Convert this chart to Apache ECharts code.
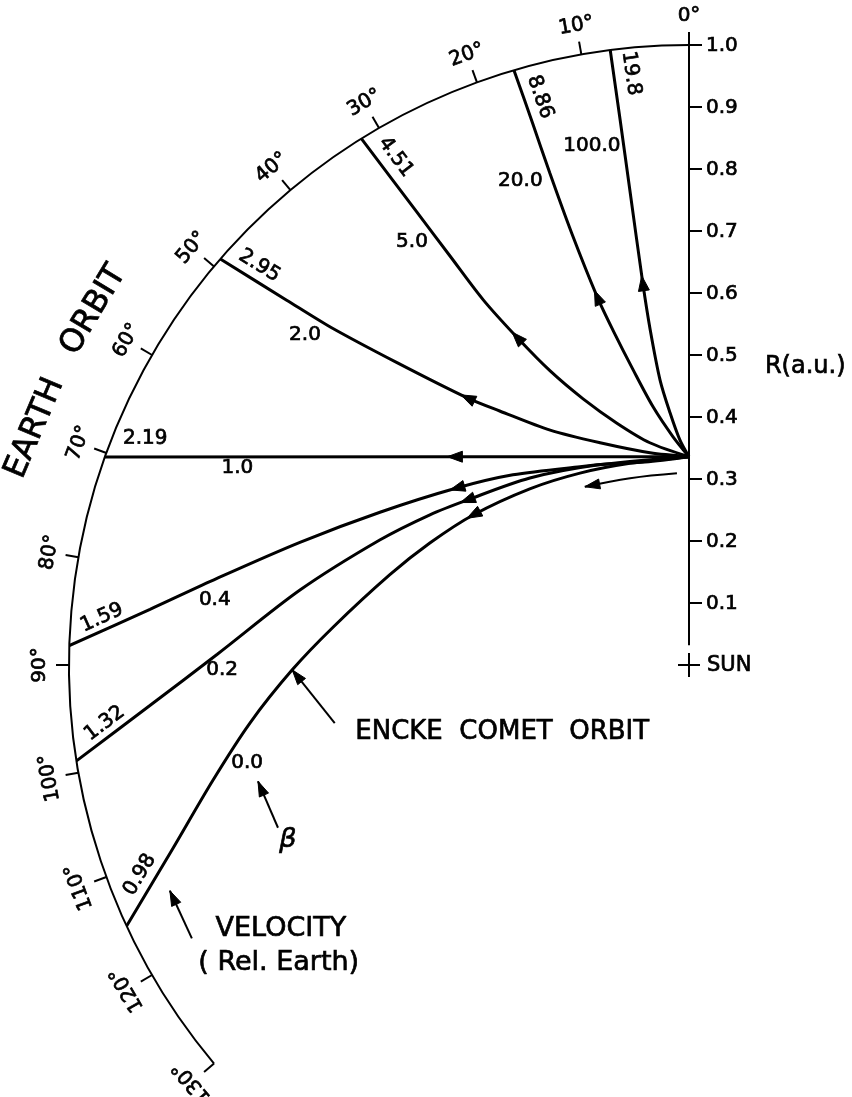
<!DOCTYPE html>
<html>
<head>
<meta charset="utf-8">
<title>Trajectories from Encke perihelion to the Earth orbit</title>
<script src="https://cdn.jsdelivr.net/npm/echarts@6/dist/echarts.min.js"></script>
<style>
  html, body { margin: 0; padding: 0; background: #ffffff; }
  #chart { width: 852px; height: 1097px; }
</style>
</head>
<body>
<div id="chart"></div>
<script>
// ---------------------------------------------------------------------------
// Data. Every path point is [R (a.u.), angle from the Sun–perihelion line (deg)],
// running from perihelion (R ≈ 0.34 a.u.) out to the Earth orbit (R = 1).
// ---------------------------------------------------------------------------
const betaValues = ['100.0', '20.0', '5.0', '2.0', '1.0', '0.4', '0.2', '0.0'];
const arrivalVelocities = ['19.8', '8.86', '4.51', '2.95', '2.19', '1.59', '1.32', '0.98'];

const pathBeta100 = [[0.336, 0], [0.363, 2.3], [0.408, 4.3], [0.462, 5.8], [0.544, 6.6], [0.621, 6.9], [0.772, 7.1], [0.886, 7.2], [1.0, 7.3]];
const pathBeta20 = [[0.336, 0], [0.369, 4.0], [0.420, 7.9], [0.484, 10.7], [0.554, 12.8], [0.612, 14.0], [0.722, 15.2], [0.825, 15.8], [0.910, 16.1], [1.0, 16.4]];
const pathBeta5 = [[0.336, 0], [0.364, 10.0], [0.407, 16.6], [0.462, 21.7], [0.525, 25.3], [0.597, 27.7], [0.676, 29.4], [0.764, 30.3], [0.852, 31.0], [1.0, 31.9]];
const pathBeta2 = [[0.336, 0], [0.348, 10.4], [0.386, 21.8], [0.440, 30.6], [0.511, 36.7], [0.560, 39.7], [0.678, 44.0], [0.795, 46.7], [0.876, 47.8], [1.0, 49.1]];
const pathBeta1 = [[0.336, 0], [0.506, 48.4], [1.0, 70.4]];
const pathBeta04 = [[0.336, 0], [0.337, 10.8], [0.365, 28.8], [0.418, 42.8], [0.471, 52.7], [0.556, 63.7], [0.658, 72.5], [0.774, 79.6], [0.874, 84.1], [1.0, 88.2]];
const pathBeta02 = [[0.336, 0], [0.335, 12.2], [0.355, 24.7], [0.396, 40.4], [0.446, 53.4], [0.483, 59.9], [0.538, 68.0], [0.639, 79.1], [0.761, 88.7], [0.872, 94.3], [1.0, 98.9]];
const pathBeta0 = [[0.336, 0], [0.339, 16.3], [0.356, 29.6], [0.383, 42.1], [0.424, 55.2], [0.462, 64.8], [0.504, 73.2], [0.577, 83.9], [0.640, 90.7], [0.714, 97.5], [0.790, 103.6], [0.886, 109.7], [1.0, 114.9]];

// Short arc showing the comet's own sense of motion near perihelion
const enckeMotion = [[0.310, 3.6], [0.316, 17.5], [0.333, 30.3]];

const radiusTicks = [0.1, 0.2, 0.3, 0.4, 0.5, 0.6, 0.7, 0.8, 0.9, 1.0];
const radiusTickLabels = ['0.1', '0.2', '0.3', '0.4', '0.5', '0.6', '0.7', '0.8', '0.9', '1.0'];
const angleTicks = [0, 10, 20, 30, 40, 50, 60, 70, 80, 90, 100, 110, 120, 130];
const angleTickLabels = ['0°', '10°', '20°', '30°', '40°', '50°', '60°', '70°', '80°', '90°', '100°', '110°', '120°', '130°'];
const orbitSpan = [0, 130];

// ---------------------------------------------------------------------------
// Layout and styling
// ---------------------------------------------------------------------------
const paths = [pathBeta100, pathBeta20, pathBeta5, pathBeta2, pathBeta1, pathBeta04, pathBeta02, pathBeta0];
const INK = '#000000';
const FONT = "'DejaVu Sans', sans-serif";
const TEXT_WEIGHT = 0.7;   // outline added to glyphs for a pen-lettered look

const layout = {
  center: [689, 665],
  radius: 620,
  axisSpan: [0.032, 1.021],     // extent of the drawn R axis
  tickOuter: 1.021,             // orbit ticks point outward to here
  angleLabelR: 1.047,           // degree labels sit on this radius
  arrowAt: [5, 5, 5, 5, 1, 4, 4, 4],   // path index carrying the direction arrow
  betaLabelAt: [[0.852, 10.6], [0.827, 19.2], [0.816, 33.2], [0.817, 49.3], [0.795, 66.4], [0.772, 82.2], [0.753, 90.6], [0.730, 102.5]],
  velocityLabelAt: [[0.959, 5.6], [0.947, 14.7], [0.946, 30.0], [0.946, 47.1], [0.950, 67.4], [0.950, 85.4], [0.947, 95.7], [0.948, 110.9]]
};

const pointers = [
  { from: [0.579, 99.3], to: [0.640, 90.7] },
  { from: [0.713, 111.6], to: [0.720, 105.1] },
  { from: [0.915, 118.8], to: [0.913, 113.5] }
];

const notes = [
  { text: 'ENCKE  COMET  ORBIT', at: [0.320, 109.7], font: '26px ' + FONT, rotate: 0 },
  { text: 'β', at: [0.706, 113.6], font: 'italic 27px ' + FONT, rotate: 0 },
  { text: 'VELOCITY', at: [0.784, 122.9], font: '27px ' + FONT, rotate: 0 },
  { text: '( Rel. Earth)', at: [0.818, 126.0], font: '27px ' + FONT, rotate: 0 },
  { text: 'R(a.u.)', at: [0.516, 338.7], font: '24px ' + FONT, rotate: 0 },
  { text: 'EARTH', at: [1.122, 70.1], font: '32px ' + FONT, rotate: 67 },
  { text: 'ORBIT', at: [1.118, 59.2], font: '32px ' + FONT, rotate: 59 }
];

function textStyle(text, font, align) {
  return { text: text, fill: INK, stroke: INK, lineWidth: TEXT_WEIGHT, font: font, align: align || 'center', verticalAlign: 'middle' };
}

// Filled arrowhead centred on p, pointing along d
function arrowHead(p, d, fore, aft, half) {
  const len = Math.hypot(d[0], d[1]) || 1;
  const ux = d[0] / len, uy = d[1] / len;
  const nx = -uy, ny = ux;
  const tip = [p[0] + ux * fore, p[1] + uy * fore];
  const bx = p[0] - ux * aft, by = p[1] - uy * aft;
  return {
    type: 'polygon',
    shape: { points: [tip, [bx + nx * half, by + ny * half], [bx - nx * half, by - ny * half]] },
    style: { fill: INK, stroke: INK, lineWidth: 1 }
  };
}

// Keeps text reading left-to-right along a direction
function readableAngle(dx, dy) {
  let a = Math.atan2(-dy, dx);
  if (a > Math.PI / 2 + 1e-6) a -= Math.PI;
  if (a < -Math.PI / 2) a += Math.PI;
  return a;
}

const series = [];

// Trajectories
paths.forEach((p, i) => {
  series.push({
    name: 'beta ' + betaValues[i],
    type: 'line',
    coordinateSystem: 'polar',
    data: p,
    smooth: i === 4 ? false : 0.3,
    showSymbol: false,
    clip: false,
    lineStyle: { color: INK, width: 3 },
    z: 4
  });
});

// Comet motion arc
series.push({
  type: 'line', coordinateSystem: 'polar', data: enckeMotion, smooth: 0.4,
  showSymbol: false, clip: false, lineStyle: { color: INK, width: 2 }, z: 4
});

// R axis line
series.push({
  type: 'line', coordinateSystem: 'polar',
  data: [[layout.axisSpan[0], 0], [layout.axisSpan[1], 0]],
  showSymbol: false, clip: false, lineStyle: { color: INK, width: 2 }, z: 3
});

// R axis ticks and labels
series.push({
  type: 'custom', coordinateSystem: 'polar', silent: true, z: 3,
  data: radiusTicks.map(r => [r, 0]),
  renderItem: (params, api) => {
    const p = api.coord([api.value(0), 0]);
    return {
      type: 'group',
      children: [
        { type: 'line', shape: { x1: p[0], y1: p[1], x2: p[0] + 13, y2: p[1] }, style: { stroke: INK, lineWidth: 2 } },
        { type: 'text', x: p[0] + 17, y: p[1] + 1,
          style: textStyle(radiusTickLabels[params.dataIndex], '20px ' + FONT, 'left') }
      ]
    };
  }
});

// Sun marker
series.push({
  type: 'custom', coordinateSystem: 'polar', silent: true, z: 3,
  data: [[0, 0]],
  renderItem: (params, api) => {
    const c = api.coord([0, 0]);
    return {
      type: 'group',
      children: [
        { type: 'line', shape: { x1: c[0] - 11, y1: c[1], x2: c[0] + 11, y2: c[1] }, style: { stroke: INK, lineWidth: 2 } },
        { type: 'line', shape: { x1: c[0], y1: c[1] - 12, x2: c[0], y2: c[1] + 12 }, style: { stroke: INK, lineWidth: 2 } },
        { type: 'text', x: c[0] + 18, y: c[1] + 1, style: textStyle('SUN', '21px ' + FONT, 'left') }
      ]
    };
  }
});

// Earth orbit arc
series.push({
  type: 'custom', coordinateSystem: 'polar', silent: true, z: 3,
  data: [[1, orbitSpan[0]]],
  renderItem: (params, api) => {
    const cs = params.coordSys;
    const a = api.coord([1, orbitSpan[0]]);
    const b = api.coord([1, orbitSpan[1]]);
    const r = Math.hypot(a[0] - cs.cx, a[1] - cs.cy);
    return {
      type: 'arc',
      shape: {
        cx: cs.cx, cy: cs.cy, r: r,
        startAngle: Math.atan2(b[1] - cs.cy, b[0] - cs.cx),
        endAngle: Math.atan2(a[1] - cs.cy, a[0] - cs.cx),
        clockwise: true
      },
      style: { stroke: INK, lineWidth: 2, fill: null }
    };
  }
});

// Orbit ticks and degree labels
series.push({
  type: 'custom', coordinateSystem: 'polar', silent: true, z: 3,
  data: angleTicks.map(a => [1, a]),
  renderItem: (params, api) => {
    const ang = api.value(1);
    const p0 = api.coord([1, ang]);
    const p1 = api.coord([layout.tickOuter, ang]);
    const pl = api.coord([layout.angleLabelR, ang]);
    return {
      type: 'group',
      children: [
        { type: 'line', shape: { x1: p0[0], y1: p0[1], x2: p1[0], y2: p1[1] }, style: { stroke: INK, lineWidth: 2 } },
        { type: 'text', x: pl[0], y: pl[1], rotation: ang * Math.PI / 180,
          style: textStyle(angleTickLabels[params.dataIndex], '20px ' + FONT) }
      ]
    };
  }
});

// Direction arrows on the trajectories
series.push({
  type: 'custom', coordinateSystem: 'polar', silent: true, z: 6,
  data: layout.arrowAt.map((k, i) => paths[i][k]),
  renderItem: (params, api) => {
    const i = params.dataIndex, k = layout.arrowAt[i], path = paths[i];
    const p = api.coord(path[k]);
    const a = api.coord(path[k - 1]);
    const b = api.coord(path[k + 1]);
    return arrowHead(p, [b[0] - a[0], b[1] - a[1]], 7, 8, 5.5);
  }
});

// Arrowhead on the comet motion arc
series.push({
  type: 'custom', coordinateSystem: 'polar', silent: true, z: 6,
  data: [enckeMotion[enckeMotion.length - 1]],
  renderItem: (params, api) => {
    const n = enckeMotion.length;
    const p = api.coord(enckeMotion[n - 1]);
    const q = api.coord(enckeMotion[n - 2]);
    return arrowHead(p, [p[0] - q[0], p[1] - q[1]], 0, 15, 5);
  }
});

// Beta labels
series.push({
  type: 'custom', coordinateSystem: 'polar', silent: true, z: 5,
  data: layout.betaLabelAt,
  renderItem: (params, api) => {
    const p = api.coord([api.value(0), api.value(1)]);
    return { type: 'text', x: p[0], y: p[1], style: textStyle(betaValues[params.dataIndex], '20px ' + FONT) };
  }
});

// Arrival velocity labels, aligned with the end of each trajectory
series.push({
  type: 'custom', coordinateSystem: 'polar', silent: true, z: 5,
  data: layout.velocityLabelAt,
  renderItem: (params, api) => {
    const path = paths[params.dataIndex];
    const e = api.coord(path[path.length - 1]);
    const f = api.coord(path[path.length - 2]);
    const p = api.coord([api.value(0), api.value(1)]);
    return { type: 'text', x: p[0], y: p[1], rotation: readableAngle(e[0] - f[0], e[1] - f[1]),
      style: textStyle(arrivalVelocities[params.dataIndex], '20px ' + FONT) };
  }
});

// Pointer arrows for the annotations
series.push({
  type: 'custom', coordinateSystem: 'polar', silent: true, z: 5,
  data: pointers.map(p => p.from),
  renderItem: (params, api) => {
    const pt = pointers[params.dataIndex];
    const s = api.coord(pt.from), t = api.coord(pt.to);
    const d = [t[0] - s[0], t[1] - s[1]];
    return {
      type: 'group',
      children: [
        { type: 'line', shape: { x1: s[0], y1: s[1], x2: t[0], y2: t[1] }, style: { stroke: INK, lineWidth: 2 } },
        arrowHead(t, d, 0, 15, 5)
      ]
    };
  }
});

// Annotation text
series.push({
  type: 'custom', coordinateSystem: 'polar', silent: true, z: 5,
  data: notes.map(n => n.at),
  renderItem: (params, api) => {
    const n = notes[params.dataIndex];
    const p = api.coord([api.value(0), api.value(1)]);
    return { type: 'text', x: p[0], y: p[1], rotation: n.rotate * Math.PI / 180, style: textStyle(n.text, n.font) };
  }
});

const chart = echarts.init(document.getElementById('chart'), null, { renderer: 'canvas' });
chart.setOption({
  animation: false,
  backgroundColor: '#ffffff',
  textStyle: { fontFamily: FONT, color: INK },
  polar: { center: layout.center, radius: layout.radius },
  angleAxis: {
    type: 'value', min: 0, max: 360, startAngle: 90, clockwise: false,
    axisLine: { show: false }, axisTick: { show: false }, axisLabel: { show: false },
    splitLine: { show: false }, splitArea: { show: false }
  },
  radiusAxis: {
    type: 'value', min: 0, max: 1, interval: 0.1,
    axisLine: { show: false }, axisTick: { show: false }, axisLabel: { show: false },
    splitLine: { show: false }, splitArea: { show: false }
  },
  series: series
});
</script>
</body>
</html>
